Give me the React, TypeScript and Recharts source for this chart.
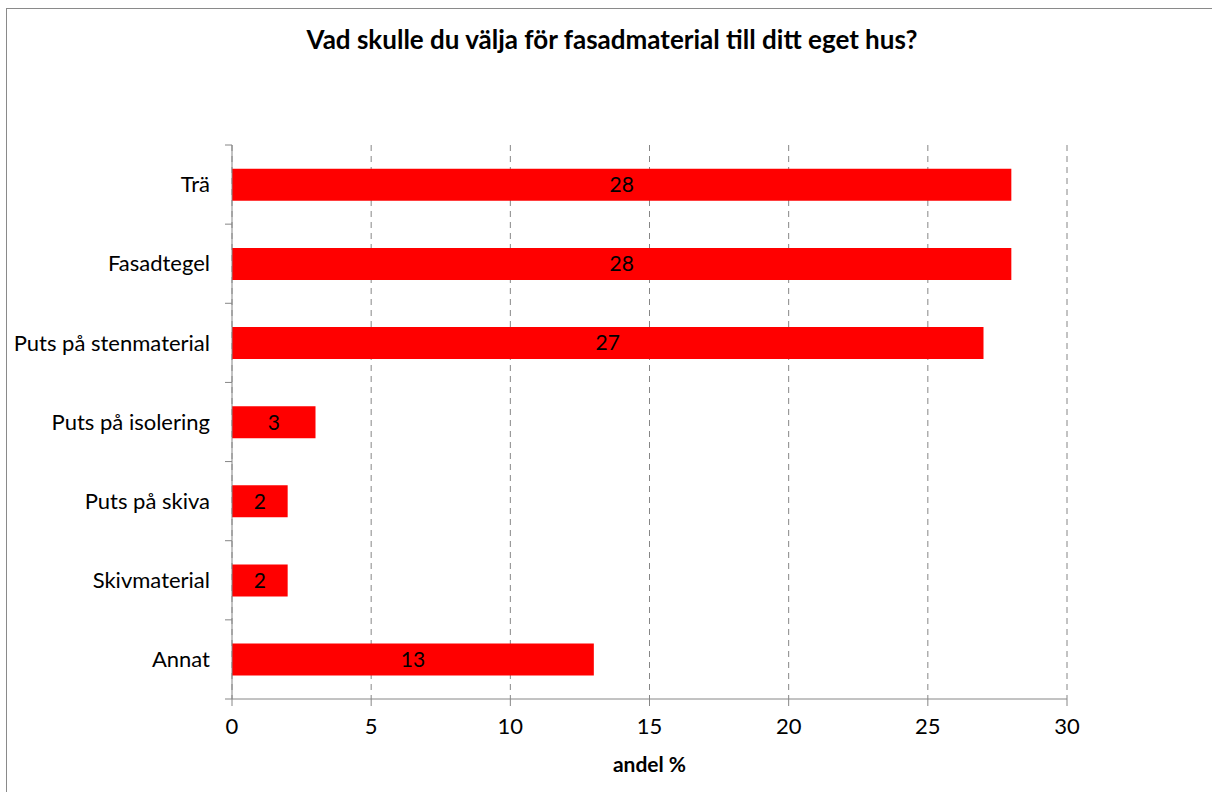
import React from 'react';
import { BarChart, Bar, XAxis, YAxis, CartesianGrid, LabelList, Label } from 'recharts';

const categories = ['Trä', 'Fasadtegel', 'Puts på stenmaterial', 'Puts på isolering', 'Puts på skiva', 'Skivmaterial', 'Annat'];
const shares = [28, 28, 27, 3, 2, 2, 13];
const xTicks = [0, 5, 10, 15, 20, 25, 30];

const data = categories.map((name, i) => ({ name, value: shares[i] }));

const W = 1212;
const H = 792;
const xAxisHeight = 93;
const margin = { top: 145, right: 145, bottom: 0, left: 0 };
const band = (H - margin.top - xAxisHeight) / categories.length;
const font = 'Lato, "Noto Sans", sans-serif';
const axisGray = '#868686';

// Excel-style: tick marks sit on the band edges, not the band centres
const CategoryTick = (props: any) => {
  const { x, y, payload, index } = props;
  return (
    <g>
      <line x1={x - 7} x2={x} y1={y - band / 2} y2={y - band / 2} stroke={axisGray} />
      {index === categories.length - 1 && (
        <line x1={x - 7} x2={x} y1={y + band / 2} y2={y + band / 2} stroke={axisGray} />
      )}
      <text x={x - 22} y={y} dy="0.35em" textAnchor="end" fontSize={22} fill="#000" fontFamily={font}>
        {payload.value}
      </text>
    </g>
  );
};

export default function App() {
  return (
    <div style={{ position: 'absolute', left: 0, top: 0, width: W, height: H, background: '#fff', overflow: 'hidden' }}>
      <div
        style={{
          position: 'absolute',
          left: 6,
          top: 8,
          width: W,
          height: H,
          borderLeft: '1px solid #8a8a8a',
          borderTop: '1px solid #8a8a8a',
        }}
      />
      <div
        style={{
          position: 'absolute',
          left: 0,
          top: 23,
          width: 1224,
          textAlign: 'center',
          fontFamily: font,
          fontWeight: 'bold',
          fontSize: 26,
          color: '#000',
        }}
      >
        Vad skulle du välja för fasadmaterial till ditt eget hus?
      </div>
      <div style={{ position: 'absolute', left: 0, top: 0 }}>
        <BarChart width={W} height={H} data={data} layout="vertical" margin={margin} barCategoryGap="30%">
          <CartesianGrid horizontal={false} stroke={axisGray} strokeDasharray="6 5" />
          <XAxis
            type="number"
            domain={[0, 30]}
            ticks={xTicks}
            interval={0}
            stroke={axisGray}
            tickSize={7}
            tickMargin={12}
            tick={{ fill: '#000', fontSize: 22, fontFamily: font }}
            height={xAxisHeight}
          >
            <Label value="andel %" position="insideBottom" offset={20} fill="#000" fontSize={21} fontWeight="bold" fontFamily={font} />
          </XAxis>
          <YAxis
            type="category"
            dataKey="name"
            width={232}
            stroke={axisGray}
            tickLine={false}
            tickSize={0}
            tickMargin={0}
            tick={<CategoryTick />}
            interval={0}
          />
          <Bar dataKey="value" fill="#ff0000" isAnimationActive={false}>
            <LabelList dataKey="value" position="center" fill="#000" fontSize={21} fontFamily={font} />
          </Bar>
        </BarChart>
      </div>
    </div>
  );
}
